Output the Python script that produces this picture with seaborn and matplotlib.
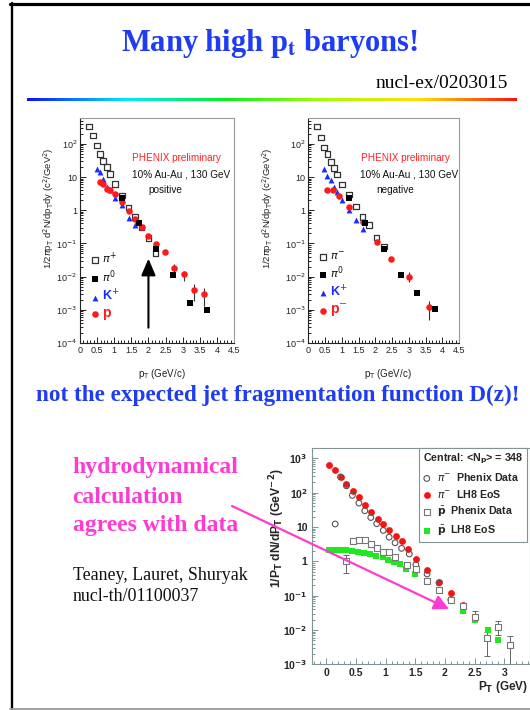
import numpy as np
import matplotlib
matplotlib.use("Agg")
import matplotlib.pyplot as plt
import seaborn as sns
from matplotlib.lines import Line2D
from matplotlib.patches import FancyArrowPatch
from matplotlib.colors import LinearSegmentedColormap
from matplotlib.ticker import FixedLocator, LogLocator, MultipleLocator, NullFormatter, FuncFormatter

# ---------------- data ----------------
# PHENIX 10% central Au-Au 130 GeV, positive hadrons
PIP_PT = [0.27, 0.39, 0.49, 0.58, 0.68, 0.78, 0.87, 1.03, 1.22, 1.42, 1.61, 1.80, 2.00, 2.21]
PIP_Y = [330, 178, 89, 50, 30, 19.6, 12.5, 6.3, 2.8, 1.2, 0.63, 0.30, 0.145, 0.051]
KP_PT = [0.49, 0.58, 0.68, 0.78, 0.87, 1.03, 1.22, 1.42, 1.61]
KP_Y = [18, 14, 8.9, 5.0, 4.0, 2.4, 1.4, 0.59, 0.36]
P_PT = [0.58, 0.68, 0.78, 0.87, 1.03, 1.22, 1.42, 1.61, 1.80, 2.00, 2.21, 2.47, 2.74, 3.05, 3.34, 3.63]
P_Y = [7.0, 6.0, 4.5, 4.0, 3.0, 1.8, 0.95, 0.54, 0.32, 0.17, 0.097, 0.056, 0.018, 0.0117, 0.0039, 0.0030]
P_ERR_LO = [0, 0, 0, 0, 0, 0, 0, 0, 0, 0, 0, 0, 0.004, 0.0043, 0.002, 0.0017]
P_ERR_HI = [0, 0, 0, 0, 0, 0, 0, 0, 0, 0, 0, 0, 0.006, 0.003, 0.002, 0.0015]
PI0P_PT = [1.22, 1.72, 2.21, 2.71, 3.20, 3.71]
PI0P_Y = [2.4, 0.40, 0.069, 0.0115, 0.0016, 0.00102]

# negative hadrons
PIM_PT = [0.25, 0.37, 0.47, 0.57, 0.67, 0.76, 0.86, 1.00, 1.22, 1.42, 1.62, 1.82, 2.04, 2.25]
PIM_Y = [330, 154, 78, 49, 28, 18.4, 11.9, 6.0, 3.0, 1.3, 0.61, 0.36, 0.15, 0.080]
KM_PT = [0.47, 0.57, 0.67, 0.76, 0.86, 1.00, 1.22, 1.42, 1.62]
KM_Y = [17.5, 11, 7.9, 5.1, 3.6, 2.1, 1.05, 0.51, 0.27]
PB_PT = [0.57, 0.74, 0.93, 1.22, 1.62, 2.04, 2.48, 3.00, 3.60]
PB_Y = [4.1, 4.0, 2.6, 1.25, 0.43, 0.109, 0.033, 0.0098, 0.0012]
PB_ERR_LO = [0, 0, 0, 0, 0, 0, 0, 0.003, 0.0007]
PB_ERR_HI = [0, 0, 0, 0, 0, 0, 0, 0.0038, 0.0007]
PI0N_PT = [1.22, 1.69, 2.25, 2.76, 3.26, 3.77]
PI0N_Y = [2.3, 0.40, 0.069, 0.0115, 0.0032, 0.00103]

PANEL_PT_TICKS = [0, 0.5, 1, 1.5, 2, 2.5, 3, 3.5, 4, 4.5]
PANEL_Y_TICKS = ["10$^{-4}$", "10$^{-3}$", "10$^{-2}$", "10$^{-1}$", "1", "10", "10$^{2}$"]

# hydrodynamics (LH8 EoS) vs PHENIX data, central <Np> = 348
HYD_PI_PT = [0.05, 0.15, 0.24, 0.34, 0.45, 0.55, 0.65, 0.75, 0.87, 0.96, 1.06, 1.17, 1.27, 1.38, 1.51,
             1.69, 1.90, 2.10, 2.31]
HYD_PI_Y = [660, 450, 290, 180, 110, 76, 45, 27, 17, 12.6, 8.4, 5.4, 3.8, 2.3, 1.2, 0.57, 0.245, 0.12, 0.052]
DAT_PI_PT = [0.15, 0.24, 0.34, 0.44, 0.55, 0.65, 0.75, 0.85, 0.96, 1.06, 1.16, 1.27, 1.40, 1.51, 1.70,
             1.90, 2.10]
DAT_PI_Y = [12.3, 290, 160, 84, 50, 30, 19, 12.6, 8.0, 5.1, 3.5, 2.4, 1.65, 0.80, 0.43, 0.235, 0.076]
DAT_PB_PT = [0.34, 0.45, 0.55, 0.65, 0.75, 0.85, 0.96, 1.06, 1.16, 1.36, 1.51, 1.70, 1.90, 2.10, 2.31,
             2.50, 2.71, 2.90, 3.10]
DAT_PB_Y = [1.0, 3.8, 4.15, 4.15, 3.3, 2.4, 1.85, 1.85, 1.35, 0.77, 0.62, 0.26, 0.15, 0.077, 0.049,
            0.024, 0.0059, 0.012, 0.0037]
DAT_PB_ERR_LO = [0.54, 0, 0, 0, 0, 0, 0, 0, 0, 0, 0, 0, 0, 0, 0, 0.003, 0.0042, 0.0047, 0.0027]
DAT_PB_ERR_HI = [0.57, 0, 0, 0, 0, 0, 0, 0, 0, 0, 0, 0, 0, 0, 0, 0.011, 0.003, 0.0058, 0.0028]
HYD_PB_PT = [0.04, 0.14, 0.23, 0.34, 0.44, 0.54, 0.63, 0.73, 0.84, 0.95, 1.04, 1.14, 1.24, 1.34, 1.50,
             1.69, 1.90, 2.10, 2.30, 2.51, 2.72, 2.90]
HYD_PB_Y = [2.1, 2.2, 2.2, 2.1, 1.96, 1.85, 1.8, 1.62, 1.47, 1.31, 1.12, 0.98, 0.82, 0.61, 0.44, 0.26,
            0.14, 0.073, 0.037, 0.019, 0.0102, 0.0052]
HYD_PT_TICKS = [0, 0.5, 1, 1.5, 2, 2.5, 3]
HYD_Y_TICKS = [r"10$^{\mathbf{-3}}$", r"10$^{\mathbf{-2}}$", r"10$^{\mathbf{-1}}$", "1", "10",
               r"10$^{\mathbf{2}}$", r"10$^{\mathbf{3}}$"]

ARROW_PT = 2.0
ARROW_FROM, ARROW_TO = 2.9e-4, 0.035

# ---------------- style ----------------
sns.set_theme(style="ticks")
plt.rcParams["font.family"] = ["Liberation Sans", "DejaVu Sans"]
plt.rcParams["mathtext.fontset"] = "dejavusans"
plt.rcParams["axes.linewidth"] = 0.8

W, H = 530, 710
BLUE = "#1e3cf5"
PINK = "#ff3ad2"
SERIF = ["Liberation Serif", "DejaVu Serif"]


def fx(px):
    return px / W


def fy(py):
    return 1 - py / H


def rect(x0, y0, x1, y1):
    return [fx(x0), fy(y1), (x1 - x0) / W, (y1 - y0) / H]


def with_errors(x, y, lo, hi):
    """Keep only the points that carry an error bar."""
    keep = [i for i in range(len(x)) if lo[i] > 0 or hi[i] > 0]
    return ([x[i] for i in keep], [y[i] for i in keep],
            [[lo[i] for i in keep], [hi[i] for i in keep]])


fig = plt.figure(figsize=(W / 100, H / 100), dpi=100)
fig.patch.set_facecolor("white")

# slide frame
fig.add_artist(Line2D([fx(10), 1], [fy(3.5), fy(3.5)], color="black", lw=2.3))
fig.add_artist(Line2D([fx(11.5), fx(11.5)], [fy(3), fy(709)], color="black", lw=1.7))
fig.add_artist(Line2D([fx(10), 1], [fy(708.5), fy(708.5)], color="#9a9a9a", lw=1.3))

# title block
fig.text(fx(270), fy(50.7), r"Many high p$_\mathbf{t}$ baryons!", ha="center", va="baseline",
         fontsize=22, fontweight="bold", color=BLUE, family=SERIF, math_fontfamily="stix")
fig.text(fx(508), fy(88), "nucl-ex/0203015", ha="right", va="baseline", fontsize=14,
         color="black", family=SERIF)
rainbow = LinearSegmentedColormap.from_list(
    "rainbow_rule", ["#1010ff", "#00e8ff", "#00f020", "#a0ff00", "#ffe000", "#ff1010"])
ax_rule = fig.add_axes(rect(27, 98.3, 517, 101.3))
ax_rule.imshow(np.linspace(0, 1, 512)[None, :], aspect="auto", cmap=rainbow)
ax_rule.axis("off")


def phenix_panel(box, pi_pt, pi_y, pi0_pt, pi0_y, k_pt, k_y, p_pt, p_y, p_lo, p_hi,
                 labels, charge, ylab_x):
    ax = fig.add_axes(rect(*box))
    ax.set_facecolor("white")
    sns.scatterplot(x=pi_pt, y=pi_y, ax=ax, marker="s", s=17, facecolors="none",
                    edgecolor="#333333", linewidth=0.9, legend=False, zorder=3)
    h_pi = ax.collections[-1]
    sns.scatterplot(x=k_pt, y=k_y, ax=ax, marker="^", s=18, color="#1a2cff",
                    linewidth=0, legend=False, zorder=3)
    h_k = ax.collections[-1]
    ex, ey, eyerr = with_errors(p_pt, p_y, p_lo, p_hi)
    ax.errorbar(ex, ey, yerr=eyerr, fmt="none", ecolor="#333333", elinewidth=0.8,
                capsize=0, zorder=2)
    sns.scatterplot(x=p_pt, y=p_y, ax=ax, marker="o", s=22, color="#ff1a1a",
                    linewidth=0, legend=False, zorder=4)
    h_p = ax.collections[-1]
    sns.scatterplot(x=pi0_pt, y=pi0_y, ax=ax, marker="s", s=16, color="black",
                    linewidth=0, legend=False, zorder=4)
    h_pi0 = ax.collections[-1]

    ax.set_yscale("log")
    ax.set_xlim(0, 4.5)
    ax.set_ylim(1e-4, 600)
    ax.yaxis.set_major_locator(FixedLocator(10.0 ** np.arange(-4, 3)))
    ax.set_yticklabels(PANEL_Y_TICKS)
    ax.yaxis.set_minor_locator(LogLocator(base=10, subs=np.arange(2, 10), numticks=20))
    ax.yaxis.set_minor_formatter(NullFormatter())
    ax.xaxis.set_major_locator(FixedLocator(PANEL_PT_TICKS))
    ax.xaxis.set_major_formatter(FuncFormatter(lambda v, _: f"{v:g}"))
    ax.xaxis.set_minor_locator(MultipleLocator(0.1))
    ax.tick_params(which="both", direction="in", top=False, right=False, colors="#222222",
                   labelsize=6.5, pad=2, width=0.7)
    ax.tick_params(which="major", length=4)
    ax.tick_params(which="minor", length=2)
    for side in ("top", "right"):
        ax.spines[side].set_color("#9a9a9a")
    for side in ("left", "bottom"):
        ax.spines[side].set_color("#222222")

    ax.set_xlabel(r"p$_\mathrm{T}$ (GeV/c)", fontsize=7, color="#222222")
    ax.xaxis.set_label_coords(0.53, -0.105)
    ax.set_ylabel(r"1/2$\pi$p$_\mathrm{T}$ d$^2$N/dp$_\mathrm{T}$dy (c$^2$/GeV$^2$)",
                  fontsize=6.8, color="#222222")
    ax.yaxis.set_label_coords(ylab_x, 0.6)

    leg = ax.legend([h_pi, h_pi0, h_k, h_p], labels, loc="upper left",
                    bbox_to_anchor=(0.075, 0.41), frameon=False, handlelength=0.6,
                    handletextpad=0.35, labelspacing=0.25, borderpad=0, borderaxespad=0,
                    fontsize=8)
    styles = [("#111111", 8, "normal"), ("#111111", 8, "normal"),
              ("#1a2cff", 9, "bold"), ("#ff1a1a", 10, "bold")]
    for txt, (c, sz, wt) in zip(leg.get_texts(), styles):
        txt.set_color(c)
        txt.set_fontsize(sz)
        txt.set_fontweight(wt)

    x0 = box[0]
    fig.text(fx(x0 + 52.5), fy(158.3), "PHENIX preliminary", color="#ff2020", fontsize=7.2,
             va="center", ha="left")
    fig.text(fx(x0 + 51.5), fy(174.3), "10% Au-Au , 130 GeV", color="#111111", fontsize=7.2,
             va="center", ha="left")
    fig.text(fx(x0 + 68), fy(190), charge, color="#111111", fontsize=7.2,
             va="center", ha="left")
    return ax


ax_pos = phenix_panel((80, 118, 234, 343), PIP_PT, PIP_Y, PI0P_PT, PI0P_Y, KP_PT, KP_Y,
                      P_PT, P_Y, P_ERR_LO, P_ERR_HI,
                      ["$\\pi^{+}$", "$\\pi^{0}$", "K$^{+}$", "p"], "positive", -0.155)
ax_pos.annotate("", xy=(ARROW_PT, ARROW_TO), xytext=(ARROW_PT, ARROW_FROM),
                arrowprops=dict(arrowstyle="-|>,head_length=0.85,head_width=0.36",
                                color="black", lw=1.5, shrinkA=0, shrinkB=0))

ax_neg = phenix_panel((308.3, 118, 459, 343), PIM_PT, PIM_Y, PI0N_PT, PI0N_Y, KM_PT, KM_Y,
                      PB_PT, PB_Y, PB_ERR_LO, PB_ERR_HI,
                      ["$\\pi^{-}$", "$\\pi^{0}$", "K$^{+}$", "p$^{-}$"], "negative", -0.22)

fig.text(fx(36), fy(400.7), "not the expected jet fragmentation function D(z)!", ha="left",
         va="baseline", fontsize=16.7, fontweight="bold", color=BLUE, family=SERIF)

# hydro side notes
for line, base in (("hydrodynamical", 473), ("calculation", 503), ("agrees with data", 531)):
    fig.text(fx(72.7), fy(base), line, ha="left", va="baseline", fontsize=17,
             fontweight="bold", color=PINK, family=SERIF)
fig.text(fx(72.7), fy(580), "Teaney, Lauret, Shuryak", ha="left", va="baseline", fontsize=12.9,
         color="#111111", family=SERIF)
fig.text(fx(72.7), fy(601), "nucl-th/01100037", ha="left", va="baseline", fontsize=12.9,
         color="#111111", family=SERIF)

# ---------------- hydro comparison ----------------
ax3 = fig.add_axes(rect(311.7, 448.3, 530, 664.3))
ax3.set_facecolor("white")
sns.scatterplot(x=HYD_PI_PT, y=HYD_PI_Y, ax=ax3, marker="o", s=24, color="#ff1010",
                linewidth=0, legend=False, zorder=3)
h_hpi = ax3.collections[-1]
sns.scatterplot(x=HYD_PB_PT, y=HYD_PB_Y, ax=ax3, marker="s", s=20, color="#1ee81e",
                linewidth=0, legend=False, zorder=3)
h_hpb = ax3.collections[-1]
sns.scatterplot(x=DAT_PI_PT, y=DAT_PI_Y, ax=ax3, marker="o", s=17, facecolors="none",
                edgecolor="#555555", linewidth=0.8, legend=False, zorder=4)
h_dpi = ax3.collections[-1]
ex, ey, eyerr = with_errors(DAT_PB_PT, DAT_PB_Y, DAT_PB_ERR_LO, DAT_PB_ERR_HI)
ax3.errorbar(ex, ey, yerr=eyerr, fmt="none", ecolor="#666666", elinewidth=0.7, capsize=2,
             capthick=0.7, zorder=2)
sns.scatterplot(x=DAT_PB_PT, y=DAT_PB_Y, ax=ax3, marker="s", s=19, facecolors="white",
                edgecolor="#777777", linewidth=0.8, legend=False, zorder=4)
h_dpb = ax3.collections[-1]

ax3.set_yscale("log")
ax3.set_xlim(-0.246, 3.435)
ax3.set_ylim(1e-3, 1980)
ax3.yaxis.set_major_locator(FixedLocator(10.0 ** np.arange(-3, 4)))
ax3.set_yticklabels(HYD_Y_TICKS)
ax3.yaxis.set_minor_locator(LogLocator(base=10, subs=np.arange(2, 10), numticks=20))
ax3.yaxis.set_minor_formatter(NullFormatter())
ax3.xaxis.set_major_locator(FixedLocator(HYD_PT_TICKS))
ax3.xaxis.set_major_formatter(FuncFormatter(lambda v, _: f"{v:g}"))
ax3.xaxis.set_minor_locator(MultipleLocator(0.1))
ax3.tick_params(which="both", direction="in", top=False, right=False, color="#7f9595",
                labelsize=7.5, pad=3, width=0.7)
ax3.tick_params(which="major", length=4)
ax3.tick_params(which="minor", length=2)
for lab in ax3.get_xticklabels() + ax3.get_yticklabels():
    lab.set_fontweight("bold")
for side in ("top", "right", "left", "bottom"):
    ax3.spines[side].set_color("#7f9595")

ax3.set_xlabel(r"P$_\mathbf{T}$ (GeV)", fontsize=8.5, fontweight="bold")
ax3.xaxis.set_label_coords(0.99, -0.07)
ax3.xaxis.label.set_ha("right")
ax3.set_ylabel(r"1/P$_\mathbf{T}$ dN/dP$_\mathbf{T}$ (GeV$^{\mathbf{-2}}$)", fontsize=8.7,
               fontweight="bold")
ax3.yaxis.set_label_coords(-0.113, 0.63)

leg3 = ax3.legend([h_dpi, h_hpi, h_dpb, h_hpb],
                  [r"$\pi^{-}$  Phenix Data", r"$\pi^{-}$  LH8 EoS",
                   r"$\bar{\mathbf{p}}$  Phenix Data", r"$\bar{\mathbf{p}}$  LH8 EoS"],
                  title=r"Central: <N$_\mathbf{p}$> = 348", loc="upper right",
                  bbox_to_anchor=(0.985, 1.0), borderaxespad=0, frameon=True, fancybox=False,
                  edgecolor="#7f9595", framealpha=1, handlelength=0.8, handletextpad=0.6,
                  labelspacing=0.45, borderpad=0.35, alignment="left",
                  prop={"weight": "bold", "size": 7.7},
                  title_fontproperties={"weight": "bold", "size": 7.7})
leg3.get_frame().set_linewidth(0.8)

# pointer from the note to the curves
fig.add_artist(FancyArrowPatch((fx(232), fy(506)), (fx(449), fy(609)),
                               transform=fig.transFigure, color=PINK, lw=1.6,
                               arrowstyle="-|>,head_length=9,head_width=4.5",
                               shrinkA=0, shrinkB=0, zorder=10))

fig.savefig("out.png", dpi=100, facecolor="white")
